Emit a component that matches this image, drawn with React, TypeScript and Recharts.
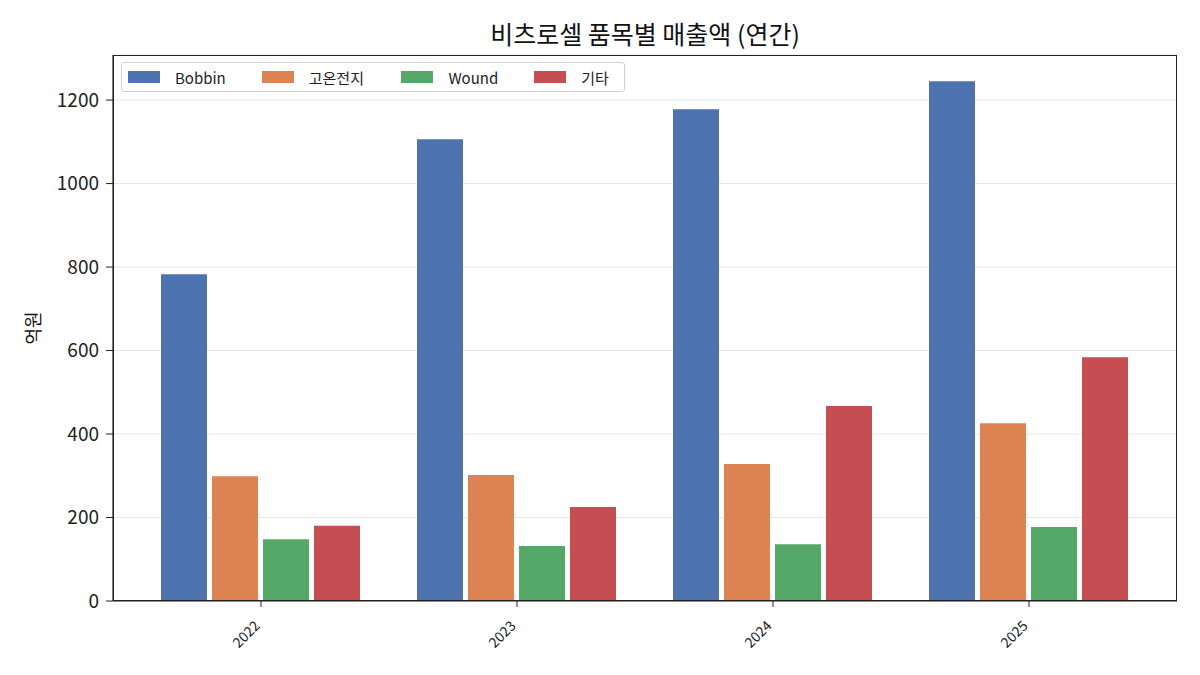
import React from "react"
import {
  BarChart,
  Bar,
  XAxis,
  YAxis,
  CartesianGrid,
} from "recharts"

const years = ["2022", "2023", "2024", "2025"]
const bobbin = [783, 1106, 1178, 1245]
const hotBattery = [299, 302, 328, 426]
const wound = [148, 132, 136, 177]
const other = [180, 225, 467, 584]
const yTicks = [0, 200, 400, 600, 800, 1000, 1200]

const seriesList = [
  { key: "bobbin", name: "Bobbin", color: "#4c72b0" },
  { key: "hot", name: "고온전지", color: "#dd8452" },
  { key: "wound", name: "Wound", color: "#55a868" },
  { key: "other", name: "기타", color: "#c44e52" },
]

const data = years.map((y, i) => ({
  year: y,
  bobbin: bobbin[i],
  hot: hotBattery[i],
  wound: wound[i],
  other: other[i],
}))

const FONT = "'Noto Sans CJK KR', 'Noto Sans', sans-serif"

function RotatedTick(props: any) {
  const { x, y, payload } = props
  return (
    <g transform={`translate(${x - 3},${y + 15})`}>
      <text transform="rotate(-45)" textAnchor="end" fontSize={14} fill="#222" fontFamily={FONT} dy={4}>
        {payload.value}
      </text>
    </g>
  )
}

// legend drawn as an overlay so it doesn't push the plot down
function LegendBox() {
  return (
    <div
      style={{
        position: "absolute",
        left: 121,
        top: 62,
        display: "flex",
        alignItems: "center",
        border: "1px solid #d0d0d0",
        borderRadius: 3,
        background: "rgba(255,255,255,0.8)",
        width: 504,
        height: 30,
        boxSizing: "border-box",
        paddingLeft: 6,
        fontFamily: FONT,
        fontSize: 15,
        color: "#222",
      }}
    >
      {seriesList.map((s, i) => (
        <div key={s.key} style={{ display: "flex", alignItems: "center", width: [134, 140, 133, 90][i] }}>
          <span style={{ display: "inline-block", width: 32, height: 12, background: s.color, marginRight: 15 }} />
          <span>{s.name}</span>
        </div>
      ))}
    </div>
  )
}

export default function App() {
  return (
    <div style={{ position: "absolute", left: 0, top: 0, width: 1200, height: 675, background: "#fff", fontFamily: FONT }}>
      <div style={{ position: "absolute", left: 113, width: 1064, top: 15, textAlign: "center", fontSize: 25, color: "#111" }}>
        비츠로셀 품목별 매출액 (연간)
      </div>
      <div
        style={{
          position: "absolute",
          left: 32,
          top: 328,
          transform: "translate(-50%,-50%) rotate(-90deg)",
          fontSize: 18,
          color: "#111",
        }}
      >
        억원
      </div>
      <BarChart
        width={1200}
        height={675}
        data={data}
        margin={{ top: 55, right: 23, bottom: 0, left: 0 }}
        barCategoryGap={28}
        barGap={5}
      >
        <CartesianGrid vertical={false} stroke="#e6e6e6" />
        <XAxis
          dataKey="year"
          height={74}
          padding={{ left: 20, right: 20 }}
          axisLine={{ stroke: "#222", strokeWidth: 1.2 }}
          tickLine={{ stroke: "#222" }}
          tickSize={6}
          tick={<RotatedTick />}
          interval={0}
        />
        <YAxis
          width={113}
          domain={[0, 1308]}
          ticks={yTicks}
          allowDataOverflow
          axisLine={{ stroke: "#222", strokeWidth: 1.2 }}
          tickLine={{ stroke: "#222" }}
          tickSize={7}
          tickMargin={7}
          tick={{ fill: "#222", fontSize: 19, fontFamily: FONT }}
        />
        {seriesList.map((s) => (
          <Bar key={s.key} dataKey={s.key} name={s.name} fill={s.color} isAnimationActive={false} />
        ))}
      </BarChart>
      <LegendBox />
      <div
        style={{
          position: "absolute",
          left: 113,
          top: 55,
          width: 1064,
          height: 546,
          border: "1.2px solid #222",
          boxSizing: "border-box",
          pointerEvents: "none",
        }}
      />
    </div>
  )
}
